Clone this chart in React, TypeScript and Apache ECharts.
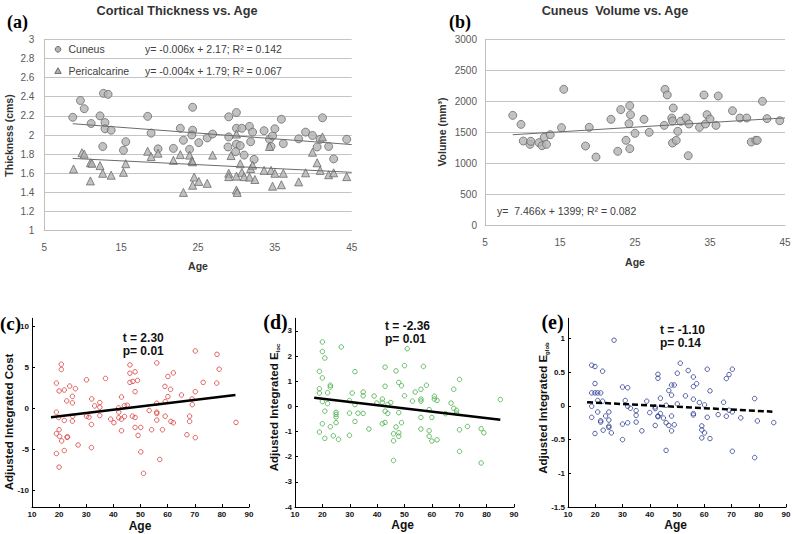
import React, { useEffect, useRef } from "react";
import * as echarts from "echarts";

const SANS = '"Liberation Sans", Arial, Helvetica, sans-serif';
const SERIF = '"Liberation Serif", "Times New Roman", serif';

// ---------- (a) Cortical thickness vs age : [age, thickness]
const cuneusThickness: number[][] = [
  [8.7, 2.185], [9.7, 2.36], [10.2, 2.275], [11.1, 2.12], [12.25, 2.2], [12.7, 2.435], [13.3, 2.425],
  [12.9, 2.13], [12.9, 2.065], [13.7, 2.05], [12.6, 1.88], [15.3, 1.84], [15.6, 1.93], [18.45, 2.195],
  [18.9, 2.02], [19.8, 1.855], [21.8, 1.86], [22.7, 2.07], [23.1, 1.945], [23.9, 1.85], [24.3, 2.29],
  [24.3, 2.05], [24.2, 2.0], [25.1, 1.92], [26.2, 1.97], [26.9, 2.01], [29.0, 2.19], [30.0, 2.235],
  [29.0, 1.98], [28.9, 1.875], [30.0, 2.07], [30.0, 1.905], [30.5, 1.89], [29.9, 1.825], [30.7, 2.07],
  [31.0, 1.79], [31.7, 2.09], [31.85, 1.93], [32.1, 2.03], [32.3, 1.745], [33.6, 2.045], [34.3, 1.955],
  [34.5, 1.88], [34.7, 1.99], [35.0, 2.065], [35.85, 2.165], [36.1, 1.91], [38.1, 1.96], [39.0, 2.03],
  [39.9, 1.995], [40.9, 1.955], [40.5, 1.875], [41.2, 2.18], [42.0, 1.88], [42.65, 1.75], [44.35, 1.955],
];
const pericalcarineThickness: number[][] = [
  [8.8, 1.645], [9.9, 1.815], [10.2, 1.8], [11.0, 1.71], [11.2, 1.705], [11.0, 1.52], [12.25, 1.68],
  [12.6, 1.6], [13.7, 1.58], [15.3, 1.61], [15.6, 1.7], [18.45, 1.83], [18.9, 1.775], [19.8, 1.81],
  [21.8, 1.735], [22.7, 1.795], [23.1, 1.4], [23.9, 1.79], [24.2, 1.73], [24.3, 1.72], [24.5, 1.56],
  [24.3, 1.475], [25.1, 1.515], [26.2, 1.495], [26.9, 1.79], [29.0, 1.6], [29.0, 1.565], [29.3, 1.785],
  [30.0, 2.01], [30.0, 1.57], [30.0, 1.425], [30.1, 1.4], [30.5, 1.7], [30.7, 1.61], [31.0, 1.565],
  [31.7, 1.56], [31.85, 1.65], [32.1, 1.685], [32.4, 1.535], [33.6, 1.63], [34.3, 1.88], [34.5, 1.63],
  [34.7, 1.465], [35.0, 1.6], [35.85, 1.48], [36.1, 1.6], [38.1, 1.51], [39.0, 1.605], [39.9, 1.82],
  [40.5, 1.71], [40.9, 1.63], [41.2, 1.98], [42.0, 1.585], [42.65, 1.605], [44.35, 1.565],
];
const cuneusFit = [-0.006, 2.17]; // slope, intercept
const pericalcarineFit = [-0.004, 1.79];
const thicknessFitAges = [8.7, 45];

// ---------- (b) Cuneus volume vs age : [age, volume]
const cuneusVolume: number[][] = [
  [8.7, 1776], [9.8, 1631], [10.1, 1363], [11.0, 1309], [11.1, 1358], [12.2, 1336], [12.6, 1288],
  [12.9, 1422], [13.2, 1309], [13.7, 1465], [15.2, 1578], [15.5, 2195], [18.9, 1583], [18.4, 1283],
  [19.8, 1105], [21.8, 1712], [22.7, 1197], [23.1, 1868], [23.8, 1374], [24.2, 1642], [24.3, 1932],
  [24.4, 1787], [24.3, 1240], [25.0, 1487], [26.2, 1712], [26.9, 1503], [28.9, 1615], [29.0, 2195],
  [29.3, 2104], [29.9, 1733], [30.1, 1894], [30.0, 1331], [30.0, 1685], [30.5, 1374], [30.7, 1519],
  [31.1, 1680], [31.8, 1733], [32.2, 1637], [32.1, 1127], [33.6, 1583], [34.2, 2104], [34.4, 1637],
  [34.6, 1787], [35.0, 1717], [35.8, 1615], [36.1, 2088], [38.0, 1851], [39.0, 1733], [39.9, 1733],
  [40.5, 1347], [41.1, 1374], [41.3, 1374], [42.0, 2002], [42.6, 1723], [44.3, 1690],
];
const volumeFit = [7.466, 1399];
const volumeFitAges = [8.7, 45];

// ---------- (c) Adjusted integrated cost : [age, value]
const costData: number[][] = [
  [19.0, 3.1], [19.0, -0.44], [20.0, 2.14], [20.8, 5.4], [20.8, 4.76], [21.9, 2.26], [23.9, 2.74],
  [26.0, 2.42], [24.9, 1.49], [24.9, 0.69], [22.8, 0.93], [21.9, -1.45], [19.8, -1.09], [25.0, -0.93],
  [24.9, -1.53], [19.0, -3.06], [20.0, -2.58], [20.2, -3.39], [20.95, -3.95], [22.9, -3.5], [23.1, -3.45],
  [27.0, -4.44], [21.9, -5.12], [19.0, -5.48], [20.0, -7.14], [30.1, 3.5], [32.0, 1.17], [33.1, 0.32],
  [35.0, 0.73], [35.0, 0.16], [35.0, -0.85], [30.1, -0.93], [31.0, -1.05], [31.9, -1.94], [31.9, -4.76],
  [37.1, 3.67], [39.0, -1.29], [40.2, -1.73], [41.9, 0.08], [42.0, -0.44], [42.0, -1.13], [43.0, 1.41],
  [43.0, -1.29], [43.0, -2.7], [44.1, 0.36], [44.1, -0.97], [45.1, 0.4], [46.1, 5.32], [46.1, 4.31],
  [46.1, 3.19], [47.2, 3.31], [48.0, 4.48], [48.9, 3.43], [48.0, 2.06], [47.0, -0.93], [48.0, -1.09],
  [48.0, -2.3], [49.1, -3.27], [50.1, -2.3], [50.1, -5.28], [51.1, -7.9], [53.2, -0.24], [54.1, -2.58],
  [56.0, 5.56], [56.0, 0.65], [56.0, -0.44], [56.0, -0.6], [56.0, -1.41], [57.1, -6.21], [58.1, -2.58],
  [59.0, 2.7], [59.1, 0.85], [59.1, -0.93], [60.1, 1.45], [60.1, 3.91], [61.1, 2.34], [61.2, -1.57],
  [62.1, 4.35], [62.1, -1.73], [65.1, 1.65], [67.1, -3.19], [68.1, -0.93], [68.1, -1.57], [69.0, 1.17],
  [69.1, 0.48], [70.2, 7.02], [70.2, 2.06], [70.2, -3.55], [73.1, 3.19], [78.2, 6.61], [78.1, 3.1],
  [79.0, 4.8], [85.2, -1.69],
];
const costFit: number[][] = [[17, -1.05], [85, 1.65]];

// ---------- (d) Adjusted integrated E_loc : [age, value]
const elocData: number[][] = [
  [20.0, 2.56], [20.0, 2.18], [20.9, 1.92], [26.9, 2.36], [18.9, 1.39], [20.0, 1.13], [18.9, 0.7],
  [18.9, 0.53], [22.9, 0.84], [22.9, 0.77], [21.9, 0.54], [20.0, 0.19], [21.9, 0.11], [20.9, -0.19],
  [25.0, -0.24], [25.0, -0.32], [25.0, -0.42], [25.0, -0.65], [22.9, -0.81], [20.0, -0.69], [18.9, -1.02],
  [20.9, -1.27], [24.0, -1.17], [25.9, -1.31], [29.9, 0.23], [29.9, -0.27], [29.9, -1.15], [30.9, 0.53],
  [31.9, 1.38], [31.9, 0.07], [31.9, -0.6], [33.0, -0.27], [34.9, 0.57], [34.9, 0.42], [34.9, -0.28],
  [37.0, -0.9], [38.9, 0.41], [39.9, 0.13], [41.9, 0.29], [41.9, 0.16], [41.9, -0.69], [42.9, 1.56],
  [42.9, 0.8], [42.9, -0.19], [42.9, -0.64], [43.9, 0.07], [43.9, -0.28], [45.0, 0.15], [46.9, 1.41],
  [47.9, 0.95], [48.9, 0.82], [47.9, -0.25], [46.9, -0.82], [46.0, -1.09], [46.0, -1.37], [47.9, -1.05],
  [47.9, -1.19], [48.9, -0.65], [46.0, -2.15], [50.0, 1.62], [51.0, 2.29], [50.0, 0.42], [52.9, 0.21],
  [53.9, 0.57], [56.0, 0.68], [56.0, 0.29], [56.0, 0.21], [56.0, -0.44], [56.0, -0.9], [56.9, 1.59],
  [58.0, 0.84], [59.0, -0.13], [59.0, -0.97], [59.0, -1.19], [60.0, -0.44], [60.0, -1.38], [60.9, 0.4],
  [60.9, 0.29], [61.9, 0.24], [61.9, -1.33], [65.0, -0.29], [67.0, 0.13], [68.0, 0.68], [68.0, -0.08],
  [69.0, -0.16], [69.0, -0.27], [70.1, 1.07], [70.1, -0.93], [70.1, -1.79], [73.0, -0.8], [78.0, -0.89],
  [79.0, -1.05], [78.0, -2.25], [85.0, 0.27],
];
const elocFit: number[][] = [[17, 0.345], [85, -0.53]];

// ---------- (e) Adjusted integrated E_glob : [age, value]
const eglobData: number[][] = [
  [26.9, 0.975], [18.7, 0.604], [19.9, 0.584], [22.7, 0.515], [19.9, 0.332], [18.7, 0.193], [19.9, 0.193],
  [20.9, 0.193], [22.0, 0.193], [20.9, 0.08], [22.7, 0.07], [18.7, -0.005], [18.7, -0.17], [20.9, -0.09],
  [22.0, -0.22], [22.0, -0.24], [19.9, -0.41], [22.9, -0.36], [23.8, -0.15], [25.0, -0.09], [25.0, -0.21],
  [25.0, -0.3], [25.0, -0.32], [25.9, -0.4], [30.0, 0.28], [31.9, 0.27], [31.0, 0.08], [31.9, -0.005],
  [32.9, -0.035], [30.0, -0.27], [31.9, -0.25], [30.0, -0.5], [35.0, -0.07], [35.0, -0.14], [35.0, -0.24],
  [37.1, -0.37], [38.9, 0.07], [40.0, -0.1], [42.0, -0.015], [42.0, -0.04], [42.0, -0.29], [43.0, 0.47],
  [43.0, 0.41], [43.0, -0.15], [43.0, -0.16], [43.9, 0.114], [43.9, -0.114], [45.0, -0.18], [46.0, 0.01],
  [46.0, -0.25], [46.0, -0.66], [47.0, 0.228], [48.0, 0.31], [48.0, 0.16], [49.0, 0.31], [48.0, -0.15],
  [47.0, -0.29], [48.0, -0.37], [49.0, -0.28], [50.1, 0.485], [50.1, 0.03], [51.2, 0.634], [53.1, 0.149],
  [54.1, 0.525], [56.0, 0.43], [57.2, 0.33], [56.0, 0.287], [56.0, 0.1], [56.0, -0.114], [56.0, -0.134],
  [58.2, 0.05], [59.1, -0.297], [59.1, -0.356], [59.1, -0.475], [60.1, 0.015], [60.1, -0.4], [61.1, 0.545],
  [61.1, -0.168], [62.1, 0.223], [62.1, -0.485], [65.1, -0.129], [67.1, 0.054], [68.1, 0.406], [69.1, 0.465],
  [70.3, 0.545], [68.1, -0.153], [69.1, -0.064], [70.3, -0.089], [70.3, -0.673], [73.4, -0.178],
  [78.5, 0.109], [78.5, -0.767], [79.5, -0.223], [85.5, -0.248],
];
const eglobFit: number[][] = [[17, 0.055], [85, -0.085]];

const costTicks = [-10, -5, 0, 5, 10];
const elocTicks = [-4, -3, -2, -1, 0, 1, 2, 3];
const eglobTicks = [-1.5, -1, -0.5, 0, 0.5, 1];

const fitLine = (fit: number[], ages: number[]) => ages.map((a) => [a, fit[0] * a + fit[1]]);

function excelX(gridIndex: number) {
  return {
    type: "value", gridIndex, min: 5, max: 45, interval: 10,
    axisLine: { show: true, lineStyle: { color: "#bfbfbf", width: 1 } },
    axisTick: { show: false },
    splitLine: { show: false },
    axisLabel: { color: "#595959", fontSize: 10, fontFamily: SANS, margin: 12 },
  };
}
function excelY(gridIndex: number, min: number, max: number, interval: number, margin: number) {
  return {
    type: "value", gridIndex, min, max, interval,
    axisLine: { show: true, lineStyle: { color: "#bfbfbf", width: 1 } },
    axisTick: { show: false },
    splitLine: { show: true, lineStyle: { color: "#c4c4c4", width: 1 } },
    axisLabel: {
      color: "#595959", fontSize: 10, fontFamily: SANS, margin,
      formatter: (v: number) => String(Math.round(v * 1000) / 1000),
    },
  };
}
function matX(gridIndex: number) {
  return {
    type: "value", gridIndex, min: 10, max: 90, interval: 10,
    axisLine: { show: true, onZero: false, lineStyle: { color: "#000", width: 1 } },
    axisTick: { show: true, inside: true, length: 3, lineStyle: { color: "#000" } },
    splitLine: { show: false },
    axisLabel: { color: "#111", fontSize: 8, fontWeight: "bold", fontFamily: SANS, margin: 3 },
  };
}
function matY(gridIndex: number, min: number, max: number, ticks: number[]) {
  return {
    type: "value", gridIndex, min, max,
    axisLine: { show: true, onZero: false, lineStyle: { color: "#000", width: 1 } },
    axisTick: { show: true, inside: true, length: 3, lineStyle: { color: "#000" }, customValues: ticks },
    splitLine: { show: false },
    axisLabel: { color: "#111", fontSize: 8, fontWeight: "bold", fontFamily: SANS, margin: 3, customValues: ticks },
  };
}

const grayMarker = { color: "#b3b3b3", borderColor: "#6b6b6b", borderWidth: 1 };

function txt(x: number, y: number, text: string, font: string, opts: any = {}) {
  const { align = "center", valign = "middle", rotation = 0, fill = "#222", extra = {} } = opts;
  return {
    type: "text", x, y, rotation, z: 100,
    style: {
      text, font, fill, align, verticalAlign: valign, textAlign: align, textVerticalAlign: valign, ...extra,
    },
  };
}

function subTitle(x: number, y: number, main: string, sub: string) {
  return {
    type: "text", x, y, rotation: Math.PI / 2, z: 100,
    style: {
      text: `{a|${main}}{s|${sub}}`,
      align: "center", verticalAlign: "middle", textAlign: "center", textVerticalAlign: "middle",
      rich: {
        a: { font: `bold 11.5px ${SANS}`, fill: "#111", lineHeight: 14 },
        s: { font: `bold 6px ${SANS}`, fill: "#111", verticalAlign: "bottom", lineHeight: 14, padding: [6, 0, 0, 0] },
      },
    },
  };
}

export default function App() {
  const ref = useRef<HTMLDivElement>(null);
  useEffect(() => {
    if (!ref.current) return;
    const chart = echarts.init(ref.current, undefined, { renderer: "svg" });
    const titleFont = `bold 12.7px ${SANS}`;
    const axTitleFont = `bold 10.5px ${SANS}`;
    const panelFont = (s: number) => `bold ${s}px ${SERIF}`;
    const statFont = `bold 12px ${SANS}`;
    const matTitle = `bold 11.5px ${SANS}`;
    const ageFont = `bold 12px ${SANS}`;

    const option: any = {
      animation: false,
      backgroundColor: "#ffffff",
      grid: [
        { left: 44.3, top: 39.3, width: 307.4, height: 191.4 },
        { left: 485, top: 39.3, width: 300, height: 186.4 },
        { left: 32, top: 318.3, width: 217, height: 188.7 },
        { left: 295, top: 318.3, width: 219, height: 188.7 },
        { left: 568, top: 318.3, width: 218, height: 188.7 },
      ],
      xAxis: [excelX(0), excelX(1), matX(2), matX(3), matX(4)],
      yAxis: [
        excelY(0, 1, 3, 0.2, 10),
        excelY(1, 0, 3000, 500, 8),
        matY(2, -12, 11, costTicks),
        matY(3, -4, 3.5, elocTicks),
        matY(4, -1.5, 1.3, eglobTicks),
      ],
      series: [
        { type: "line", xAxisIndex: 0, yAxisIndex: 0, data: fitLine(cuneusFit, thicknessFitAges), symbol: "none",
          lineStyle: { color: "#6b6b6b", width: 1 }, silent: true },
        { type: "line", xAxisIndex: 0, yAxisIndex: 0, data: fitLine(pericalcarineFit, thicknessFitAges), symbol: "none",
          lineStyle: { color: "#6b6b6b", width: 1 }, silent: true },
        { type: "scatter", xAxisIndex: 0, yAxisIndex: 0, data: cuneusThickness, symbol: "circle", symbolSize: 8, itemStyle: grayMarker },
        { type: "scatter", xAxisIndex: 0, yAxisIndex: 0, data: pericalcarineThickness, symbol: "triangle", symbolSize: 8, itemStyle: grayMarker },

        { type: "line", xAxisIndex: 1, yAxisIndex: 1, data: fitLine(volumeFit, volumeFitAges), symbol: "none",
          lineStyle: { color: "#6b6b6b", width: 1 }, silent: true },
        { type: "scatter", xAxisIndex: 1, yAxisIndex: 1, data: cuneusVolume, symbol: "circle", symbolSize: 8, itemStyle: grayMarker },

        { type: "scatter", xAxisIndex: 2, yAxisIndex: 2, data: costData, symbol: "circle", symbolSize: 4.5,
          itemStyle: { color: "rgba(0,0,0,0)", borderColor: "#d93b3b", borderWidth: 1 } },
        { type: "line", xAxisIndex: 2, yAxisIndex: 2, data: costFit, symbol: "none", lineStyle: { color: "#000", width: 2.5 } },

        { type: "scatter", xAxisIndex: 3, yAxisIndex: 3, data: elocData, symbol: "circle", symbolSize: 4.5,
          itemStyle: { color: "rgba(0,0,0,0)", borderColor: "#45ad45", borderWidth: 1 } },
        { type: "line", xAxisIndex: 3, yAxisIndex: 3, data: elocFit, symbol: "none", lineStyle: { color: "#000", width: 2.5 } },

        { type: "scatter", xAxisIndex: 4, yAxisIndex: 4, data: eglobData, symbol: "circle", symbolSize: 4.5,
          itemStyle: { color: "rgba(0,0,0,0)", borderColor: "#2a3a8c", borderWidth: 1 } },
        { type: "line", xAxisIndex: 4, yAxisIndex: 4, data: eglobFit, symbol: "none",
          lineStyle: { color: "#000", width: 2.5, type: [6, 3] } },
      ],
      graphic: [
        // (a)
        txt(177, 11, "Cortical Thickness vs. Age", titleFont, { fill: "#333" }),
        txt(17.5, 22, "(a)", panelFont(18), { fill: "#000" }),
        txt(8.5, 135.5, "Thickness (cms)", axTitleFont, { rotation: Math.PI / 2, fill: "#333" }),
        txt(198, 266, "Age", axTitleFont, { fill: "#333" }),
        { type: "circle", z: 100, shape: { cx: 58, cy: 49.3, r: 2.8 }, style: { fill: "#b3b3b3", stroke: "#6b6b6b", lineWidth: 1 } },
        { type: "polygon", z: 100, shape: { points: [[58, 67.8], [61.2, 73.4], [54.8, 73.4]] },
          style: { fill: "#b3b3b3", stroke: "#6b6b6b", lineWidth: 1 } },
        txt(68.5, 49.3, "Cuneus", `10.5px ${SANS}`, { align: "left", fill: "#404040" }),
        txt(68.5, 70.8, "Pericalcarine", `10.5px ${SANS}`, { align: "left", fill: "#404040" }),
        txt(145, 49.3, "y= -0.006x + 2.17; R\u00b2 = 0.142", `10.5px ${SANS}`, { align: "left", fill: "#404040" }),
        txt(145, 70.8, "y= -0.004x + 1.79; R\u00b2 = 0.067", `10.5px ${SANS}`, { align: "left", fill: "#404040" }),
        // (b)
        txt(615, 11, "Cuneus  Volume vs. Age", titleFont, { fill: "#333" }),
        txt(460, 22, "(b)", panelFont(18), { fill: "#000" }),
        txt(442, 132, "Volume (mm\u00b3)", axTitleFont, { rotation: Math.PI / 2, fill: "#333" }),
        txt(635, 262, "Age", axTitleFont, { fill: "#333" }),
        txt(497, 210.7, "y=  7.466x + 1399; R\u00b2 = 0.082", `10.5px ${SANS}`, { align: "left", fill: "#404040" }),
        // (c)
        txt(10.5, 323, "(c)", panelFont(19), { fill: "#000" }),
        txt(122.7, 338, "t = 2.30", statFont, { align: "left", fill: "#111" }),
        txt(122.7, 351, "p= 0.01", statFont, { align: "left", fill: "#111" }),
        txt(9.3, 422, "Adjusted Integrated Cost", matTitle, { rotation: Math.PI / 2, fill: "#111" }),
        txt(140, 526, "Age", ageFont, { fill: "#111" }),
        // (d)
        txt(275.5, 322, "(d)", panelFont(20), { fill: "#000" }),
        txt(385, 326, "t = -2.36", statFont, { align: "left", fill: "#111" }),
        txt(385, 339, "p= 0.01", statFont, { align: "left", fill: "#111" }),
        subTitle(274.3, 407.5, "Adjusted Integrated E", "loc"),
        txt(402.7, 525, "Age", ageFont, { fill: "#111" }),
        // (e)
        txt(552.5, 322, "(e)", panelFont(20), { fill: "#000" }),
        txt(660, 330, "t = -1.10", statFont, { align: "left", fill: "#111" }),
        txt(660, 343, "p= 0.14", statFont, { align: "left", fill: "#111" }),
        subTitle(543.3, 408, "Adjusted Integrated E", "glob"),
        txt(675.7, 525, "Age", ageFont, { fill: "#111" }),
      ],
    };
    chart.setOption(option);
    return () => chart.dispose();
  }, []);
  return (
    <div
      ref={ref}
      style={{ position: "fixed", left: 0, top: 0, width: 796, height: 534, background: "#fff" }}
    />
  );
}
